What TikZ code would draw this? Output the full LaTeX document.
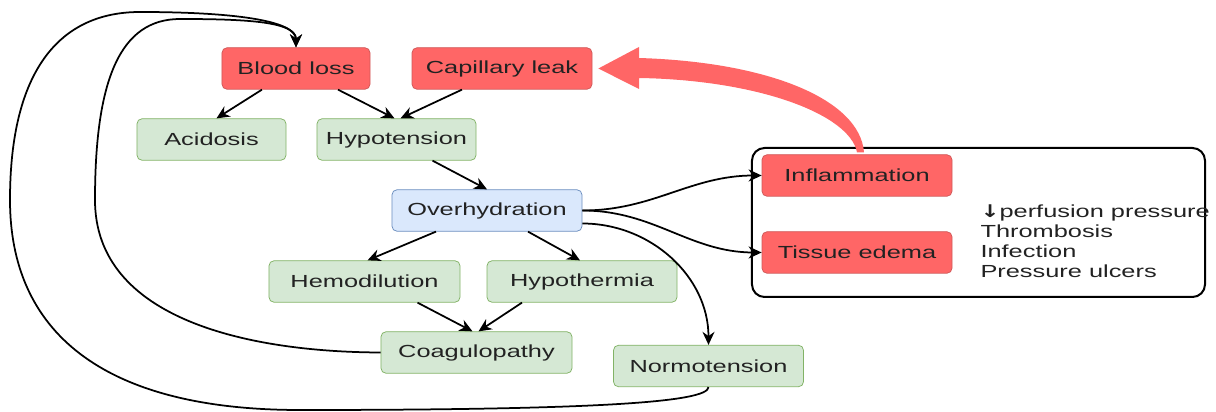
\documentclass[tikz,border=0pt]{standalone}
\usepackage{fontspec}
\setmainfont{Liberation Sans}[FakeStretch=1.45]
\newfontfamily\arrowfont{DejaVu Sans}[FakeStretch=1.3]
\usetikzlibrary{arrows.meta,calc}

\definecolor{redfill}{HTML}{FF6666}
\definecolor{redline}{HTML}{D05A5A}
\definecolor{greenfill}{HTML}{D5E8D4}
\definecolor{greenline}{HTML}{82B366}
\definecolor{bluefill}{HTML}{DAE8FC}
\definecolor{blueline}{HTML}{6C8EBF}
\definecolor{textgray}{HTML}{222222}

\begin{document}
\begin{tikzpicture}
  [x=0.4pt,y=-0.4pt,
   every node/.style={rectangle,rounded corners=2pt,minimum height=16.6pt,inner sep=0pt,text=textgray,font=\fontsize{7pt}{8pt}\selectfont},
   redbox/.style={fill=redfill,draw=redline,line width=0.3pt},
   greenbox/.style={fill=greenfill,draw=greenline,line width=0.3pt},
   bluebox/.style={fill=bluefill,draw=blueline,line width=0.3pt},
   note/.style={anchor=base west,minimum height=0pt},
   arr/.style={-{Stealth[length=5.2pt,width=4.8pt]},line width=0.7pt}]
  \useasboundingbox (0,0) rectangle (1216,412);

  % cajas
  \node[redbox,minimum width=59.2pt] (blood) at (296,68.5) {Blood loss};
  \node[redbox,minimum width=72pt] (leak) at (502,68.5) {Capillary leak};
  \node[greenbox,minimum width=59.6pt] (acid) at (211.5,139.5) {Acidosis};
  \node[greenbox,minimum width=63.6pt] (hypo) at (396.5,139.5) {Hypotension};
  \node[bluebox,minimum width=76pt] (over) at (487,210.5) {Overhydration};
  \node[greenbox,minimum width=76.4pt] (hemo) at (364.5,281.5) {Hemodilution};
  \node[greenbox,minimum width=76pt] (hypoth) at (582,281.5) {Hypothermia};
  \node[greenbox,minimum width=76.4pt] (coag) at (476.5,352.5) {Coagulopathy};
  \node[greenbox,minimum width=76pt] (normo) at (708.5,366) {Normotension};

  % recuadro de la derecha
  \node[draw=black,line width=0.8pt,rounded corners=5pt,minimum width=181.2pt,minimum height=59.6pt] (frame) at (978.5,222.5) {};
  \node[redbox,minimum width=76pt] (infl) at (857,175.5) {Inflammation};
  \node[redbox,minimum width=76pt] (edema) at (857,252.5) {Tissue edema};
  \node[note] (t1) at (980,218) {{\arrowfont\bfseries ↓}perfusion pressure};
  \node[note] (t2) at (980,238) {Thrombosis};
  \node[note] (t3) at (980,258) {Infection};
  \node[note] (t4) at (980,278) {Pressure ulcers};

  % flechas rectas
  \draw[arr] ($(blood.south)+(-34,0)$) -- ($(acid.north)+(5,0)$);
  \draw[arr] ($(blood.south)+(42,0)$) -- ($(hypo.north)+(-2,0)$);
  \draw[arr] ($(leak.south)+(-40,0)$) -- ($(hypo.north)+(4,0)$);
  \draw[arr] ($(hypo.south)+(36,0)$) -- (over.north);
  \draw[arr] ($(over.south)+(-51,0)$) -- ($(hemo.north)+(3,0)$);
  \draw[arr] ($(over.south)+(41,0)$) -- ($(hypoth.north)+(-2,0)$);
  \draw[arr] ($(hemo.south)+(53,0)$) -- ($(coag.north)+(-4,0)$);
  \draw[arr] ($(hypoth.south)+(-60,0)$) -- ($(coag.north)+(2,0)$);

  % flechas curvas
  \draw[arr] (over.east) to[out=0,in=180] (infl.west);
  \draw[arr] (over.east) to[out=0,in=180] (edema.west);
  \draw[arr] ($(over.east)+(0,13)$) to[out=0,in=90] (normo.north);
  \draw[arr] (coag.west) .. controls (250,352) and (95,320) .. (95,200)
    .. controls (95,80) and (120,19) .. (180,19)
    .. controls (250,19) and (296,22) .. (blood.north);
  \draw[arr] (normo.south) .. controls (708,402) and (600,410) .. (300,410)
    .. controls (100,410) and (10,330) .. (10,200)
    .. controls (10,70) and (60,12) .. (140,12)
    .. controls (230,12) and (296,20) .. (blood.north);

  % flecha gruesa roja
  \fill[redfill] ($(leak.east)+(6,0)$) -- (639,47) -- (639,58)
    .. controls (770,62) and (860,100) .. ($(infl.north)+(7,-2)$)
    -- ($(infl.north)+(0,-2)$)
    .. controls (850,115) and (760,80) .. (639,78) -- (639,89) -- cycle;
\end{tikzpicture}
\end{document}
